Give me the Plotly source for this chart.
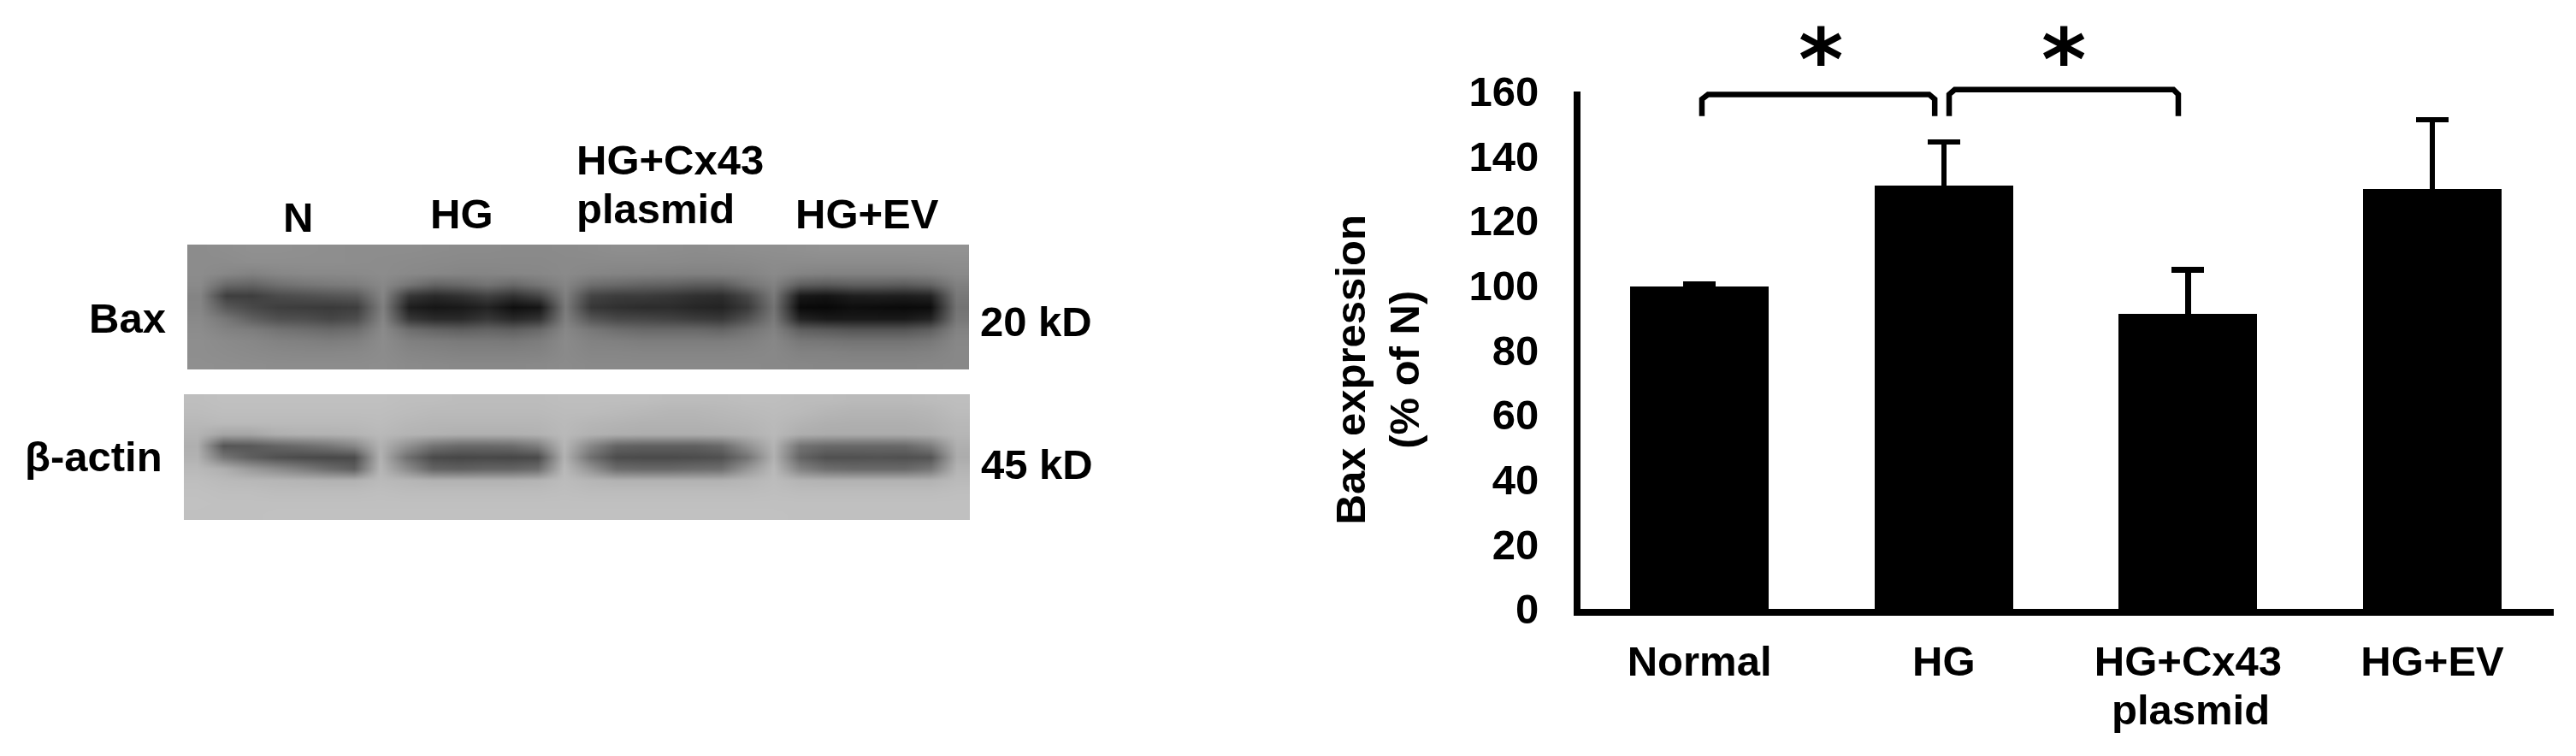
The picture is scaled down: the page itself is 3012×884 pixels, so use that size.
import plotly.graph_objects as go

# Bar chart values (% of N)
groups = [0, 1, 2, 3]
group_labels = ['Normal', 'HG', 'HG+Cx43', 'HG+EV']
bax_expression = [99.8, 131.0, 91.3, 129.9]
bax_error = [0.6, 13.4, 13.6, 21.4]
# lower arm only pushes the cap plotly always draws down inside the black bar
bax_error_lower = [1, 1, 1, 1]
y_ticks = [0, 20, 40, 60, 80, 100, 120, 140, 160]

# Significance brackets and stars
bracket1_x = [0.01, 0.01, 0.035, 0.94, 0.963, 0.963]
bracket1_y = [152.4, 157.6, 159.1, 159.1, 157.6, 152.4]
bracket2_x = [1.022, 1.022, 1.045, 1.94, 1.96, 1.96]
bracket2_y = [152.4, 159.1, 160.6, 160.6, 159.1, 152.4]
star_x = [0.495, 1.49]
star_y = [169.7, 169.7]

# Blot grey levels, top row first, 30 columns by 11 rows
bax_blot = [
    [140, 142, 144, 144, 143, 142, 141, 141, 141, 140, 139, 139, 138, 138, 139, 140, 142, 142, 141, 140, 141, 142, 143, 144, 146, 146, 146, 146, 146, 146],
    [140, 140, 142, 142, 142, 142, 141, 140, 139, 138, 137, 137, 137, 137, 138, 138, 138, 138, 138, 137, 137, 138, 140, 140, 140, 140, 140, 140, 141, 142],
    [140, 135, 130, 135, 137, 137, 138, 140, 137, 135, 133, 133, 134, 135, 138, 134, 132, 131, 130, 129, 130, 132, 138, 132, 130, 130, 130, 130, 132, 138],
    [138, 105, 100, 112, 118, 122, 125, 136, 118, 100, 105, 115, 105, 118, 133, 110, 105, 100, 98, 92, 92, 115, 130, 95, 90, 95, 95, 92, 100, 128],
    [132, 62, 62, 75, 80, 85, 90, 133, 55, 42, 50, 65, 50, 70, 128, 68, 60, 60, 55, 48, 45, 72, 122, 25, 20, 30, 32, 30, 35, 120],
    [133, 88, 72, 62, 60, 58, 62, 128, 30, 22, 25, 35, 15, 22, 123, 55, 48, 44, 44, 38, 35, 58, 116, 10, 8, 14, 12, 10, 12, 115],
    [137, 118, 95, 80, 78, 70, 78, 133, 55, 42, 42, 55, 40, 50, 128, 85, 72, 70, 66, 60, 56, 82, 122, 35, 25, 25, 25, 25, 35, 120],
    [140, 130, 125, 115, 110, 105, 110, 138, 110, 100, 95, 100, 95, 105, 135, 120, 110, 105, 105, 105, 100, 115, 130, 95, 90, 85, 85, 85, 95, 130],
    [142, 138, 135, 130, 128, 125, 128, 140, 128, 125, 122, 122, 120, 125, 138, 130, 128, 125, 125, 125, 125, 128, 135, 120, 118, 115, 115, 115, 120, 135],
    [142, 140, 138, 136, 135, 135, 136, 140, 134, 132, 130, 130, 130, 131, 138, 134, 134, 133, 133, 133, 133, 134, 136, 130, 130, 128, 128, 128, 130, 136],
    [143, 142, 141, 140, 140, 140, 140, 141, 138, 137, 136, 136, 136, 137, 139, 137, 137, 137, 137, 137, 137, 137, 136, 135, 134, 134, 134, 134, 135, 136],
]
actin_blot = [
    [190, 192, 192, 192, 192, 192, 192, 192, 190, 190, 188, 188, 188, 188, 190, 190, 190, 190, 188, 188, 188, 190, 190, 188, 188, 186, 186, 186, 188, 190],
    [188, 190, 190, 190, 190, 190, 190, 190, 188, 186, 186, 186, 186, 186, 188, 188, 186, 184, 182, 182, 184, 186, 188, 186, 182, 180, 180, 180, 182, 188],
    [184, 186, 186, 186, 186, 186, 186, 188, 184, 182, 182, 182, 182, 182, 186, 182, 180, 178, 178, 178, 180, 182, 186, 180, 176, 175, 175, 175, 178, 184],
    [180, 165, 165, 175, 178, 178, 180, 185, 180, 178, 176, 176, 176, 178, 185, 178, 175, 174, 174, 174, 175, 178, 185, 174, 172, 172, 172, 172, 174, 182],
    [175, 85, 88, 100, 108, 118, 135, 178, 145, 115, 105, 105, 108, 125, 182, 135, 100, 96, 96, 96, 105, 145, 180, 115, 105, 104, 104, 105, 125, 175],
    [178, 118, 95, 80, 74, 72, 74, 178, 112, 74, 70, 72, 70, 74, 178, 112, 76, 74, 74, 76, 80, 115, 178, 100, 80, 80, 82, 80, 84, 172],
    [185, 175, 155, 140, 125, 108, 95, 182, 140, 100, 96, 100, 100, 108, 185, 148, 108, 104, 104, 108, 110, 150, 185, 130, 110, 105, 105, 105, 118, 180],
    [190, 186, 184, 182, 180, 178, 178, 186, 182, 178, 178, 178, 178, 180, 188, 182, 178, 178, 178, 178, 178, 182, 188, 180, 178, 178, 178, 178, 178, 186],
    [192, 190, 190, 188, 188, 188, 188, 190, 188, 188, 188, 188, 188, 188, 190, 188, 188, 188, 188, 188, 188, 188, 190, 188, 188, 188, 188, 188, 188, 190],
    [193, 192, 192, 192, 192, 192, 192, 192, 192, 192, 192, 192, 192, 192, 192, 192, 192, 192, 192, 192, 192, 192, 192, 192, 192, 192, 192, 192, 192, 192],
    [192, 192, 192, 193, 193, 193, 193, 193, 193, 193, 193, 193, 193, 193, 193, 193, 193, 193, 193, 193, 193, 193, 193, 192, 192, 192, 192, 192, 192, 192],
]

W = 3012
H = 884
FONT = 'Liberation Sans'
SIZE = 49
GREYS = [[0, '#000000'], [1, '#ffffff']]
Y_TOP = 107
Y_BASE = 712


def dom_x(left, right):
    return [left / W, right / W]


def dom_y(top, bottom):
    return [1 - bottom / H, 1 - top / H]


def label(fig, text, cx, baseline, size=SIZE, angle=0):
    # x5/y5 is a hidden page-sized axis pair, paper refs would push the margins
    fig.add_annotation(
        text=text, xref='x5', yref='y5', showarrow=False,
        x=cx, y=baseline - 0.40 * size,
        xanchor='center', yanchor='middle', textangle=angle,
        font=dict(family=FONT, size=size, color='black', weight=700),
    )


fig = go.Figure()

fig.add_trace(go.Bar(
    x=groups, y=bax_expression, width=0.567,
    marker=dict(color='black', line=dict(width=0)),
    error_y=dict(type='data', symmetric=False, array=bax_error,
                 arrayminus=bax_error_lower, color='black', thickness=6.5, width=19),
    xaxis='x', yaxis='y', showlegend=False,
))
for bx, by in [(bracket1_x, bracket1_y), (bracket2_x, bracket2_y)]:
    fig.add_trace(go.Scatter(
        x=bx, y=by, mode='lines', showlegend=False,
        line=dict(color='black', width=6.5), xaxis='x', yaxis='y4',
    ))

fig.add_trace(go.Heatmap(z=bax_blot, colorscale=GREYS, zmin=0, zmax=255, zsmooth='best',
                         showscale=False, xaxis='x2', yaxis='y2'))
fig.add_trace(go.Heatmap(z=actin_blot, colorscale=GREYS, zmin=0, zmax=255, zsmooth='best',
                         showscale=False, xaxis='x3', yaxis='y3'))

hidden = dict(visible=False, showgrid=False, zeroline=False, automargin=False)

fig.update_layout(
    width=W, height=H, autosize=False,
    margin=dict(l=0, r=0, t=0, b=0),
    paper_bgcolor='white', plot_bgcolor='rgba(0,0,0,0)',
    font=dict(family=FONT, size=SIZE, color='black', weight=700),
    bargap=0,
    xaxis=dict(
        domain=dom_x(1848, 2986), range=[-0.487, 3.497], automargin=False,
        tickmode='array', tickvals=groups, ticktext=group_labels,
        ticks='', ticklabelstandoff=11, showgrid=False, zeroline=False,
        showline=True, linecolor='black', linewidth=8,
        tickfont=dict(family=FONT, size=SIZE, color='black', weight=700),
    ),
    yaxis=dict(
        domain=dom_y(Y_TOP, Y_BASE), range=[0, 160], automargin=False,
        tickmode='array', tickvals=y_ticks,
        ticks='', ticklabelstandoff=31, showgrid=False, zeroline=False,
        showline=True, linecolor='black', linewidth=8,
        tickfont=dict(family=FONT, size=SIZE, color='black', weight=700),
    ),
    xaxis2=dict(domain=dom_x(219, 1133), anchor='y2', **hidden),
    yaxis2=dict(domain=dom_y(286, 432), anchor='x2', autorange='reversed', **hidden),
    xaxis3=dict(domain=dom_x(215, 1134), anchor='y3', **hidden),
    yaxis3=dict(domain=dom_y(461, 608), anchor='x3', autorange='reversed', **hidden),
    # same data scale as yaxis, but taller so brackets and stars can sit above 160
    yaxis4=dict(domain=dom_y(Y_BASE - 180 * (Y_BASE - Y_TOP) / 160, Y_BASE), range=[0, 180],
                anchor='x', **hidden),
    xaxis5=dict(domain=[0, 1], range=[0, W], anchor='y5', **hidden),
    yaxis5=dict(domain=[0, 1], range=[H, 0], anchor='x5', **hidden),
)

# Blot lane labels
label(fig, 'N', 348, 274)
label(fig, 'HG', 540, 270)
label(fig, 'HG+Cx43', 783, 207)
label(fig, 'plasmid', 766, 264)
label(fig, 'HG+EV', 1014, 270)
label(fig, 'Bax', 149, 392)
label(fig, 'β-actin', 109, 554)
label(fig, '20 kD', 1211, 396)
label(fig, '45 kD', 1212, 563)

# Chart axis title, second line of the third tick label
label(fig, 'Bax expression<br>(% of N)', 1611, 452, angle=-90)
label(fig, 'plasmid', 2561, 850)

# Stars
for sx, sy in zip(star_x, star_y):
    fig.add_annotation(
        text='*', xref='x', yref='y4', x=sx, y=sy, showarrow=False,
        xanchor='center', yanchor='middle',
        font=dict(family='DejaVu Sans', size=100, color='black', weight=700),
    )

fig.write_html("out.html", config={'displayModeBar': False},
               post_script="document.body.style.margin = '0';")
